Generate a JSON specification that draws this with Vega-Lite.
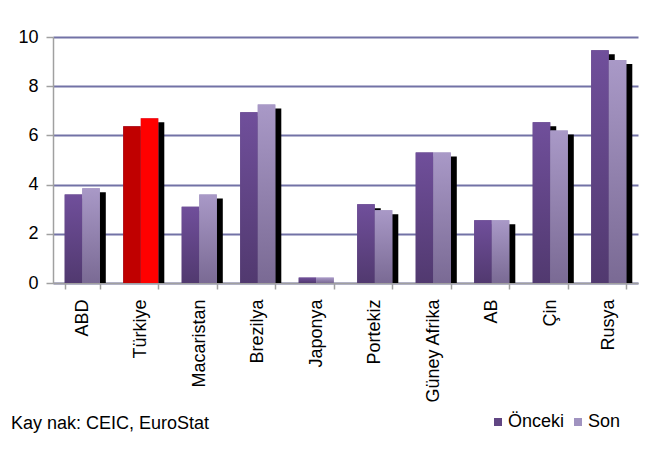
{
  "$schema": "https://vega.github.io/schema/vega-lite/v6.json",
  "autosize": {"type": "none"},
  "width": 585,
  "height": 246,
  "padding": {"left": 53, "top": 37, "right": 10, "bottom": 169},
  "background": "white",
  "title": {
    "text": "Kay nak: CEIC, EuroStat",
    "orient": "bottom",
    "anchor": "start",
    "frame": "group",
    "dx": -42,
    "offset": -16,
    "font": "Liberation Sans",
    "fontSize": 18,
    "fontWeight": "normal",
    "color": "#000000"
  },
  "data": {
    "values": [
      {"country": "ABD", "series": "Önceki", "value": 3.6},
      {"country": "ABD", "series": "Son", "value": 3.85},
      {"country": "Türkiye", "series": "Önceki", "value": 6.37},
      {"country": "Türkiye", "series": "Son", "value": 6.7},
      {"country": "Macaristan", "series": "Önceki", "value": 3.1},
      {"country": "Macaristan", "series": "Son", "value": 3.6},
      {"country": "Brezilya", "series": "Önceki", "value": 6.94},
      {"country": "Brezilya", "series": "Son", "value": 7.26},
      {"country": "Japonya", "series": "Önceki", "value": 0.22},
      {"country": "Japonya", "series": "Son", "value": 0.22},
      {"country": "Portekiz", "series": "Önceki", "value": 3.2},
      {"country": "Portekiz", "series": "Son", "value": 2.96},
      {"country": "Güney Afrika", "series": "Önceki", "value": 5.3},
      {"country": "Güney Afrika", "series": "Son", "value": 5.3},
      {"country": "AB", "series": "Önceki", "value": 2.55},
      {"country": "AB", "series": "Son", "value": 2.55},
      {"country": "Çin", "series": "Önceki", "value": 6.53},
      {"country": "Çin", "series": "Son", "value": 6.2},
      {"country": "Rusya", "series": "Önceki", "value": 9.46},
      {"country": "Rusya", "series": "Son", "value": 9.06}
    ]
  },
  "encoding": {
    "x": {
      "field": "country",
      "type": "nominal",
      "sort": ["ABD", "Türkiye", "Macaristan", "Brezilya", "Japonya", "Portekiz", "Güney Afrika", "AB", "Çin", "Rusya"],
      "scale": {"paddingInner": 0.4, "paddingOuter": 0.2},
      "axis": {
        "title": null,
        "labelAngle": -90,
        "labelFont": "Liberation Sans",
        "labelFontSize": 18,
        "labelColor": "#000000",
        "labelPadding": 10,
        "tickBand": "extent",
        "tickSize": 6,
        "tickColor": "#a0a0a0",
        "tickWidth": 1.5,
        "domainColor": "#a0a0a0",
        "domainWidth": 1.5,
        "grid": false
      }
    },
    "y": {
      "field": "value",
      "type": "quantitative",
      "scale": {"domain": [0, 10], "nice": false},
      "axis": {
        "title": null,
        "values": [0, 2, 4, 6, 8, 10],
        "labelFont": "Liberation Sans",
        "labelFontSize": 18,
        "labelColor": "#000000",
        "labelPadding": 8,
        "tickSize": 7,
        "tickColor": "#a0a0a0",
        "tickWidth": 1.5,
        "domainColor": "#a0a0a0",
        "domainWidth": 1.5,
        "grid": true,
        "gridColor": "#7272a6",
        "gridWidth": 2
      }
    }
  },
  "resolve": {"scale": {"xOffset": "independent"}},
  "layer": [
    {
      "transform": [{"filter": "datum.value > 0.5"}],
      "mark": {"type": "bar", "fill": "#000000", "yOffset": 4, "clip": true},
      "encoding": {
        "xOffset": {
          "field": "series",
          "type": "nominal",
          "sort": ["Önceki", "Son"],
          "scale": {"range": [6, 41.1]}
        }
      }
    },
    {
      "layer": [
        {
          "mark": {"type": "bar"},
          "encoding": {
            "color": {
              "field": "series",
              "type": "nominal",
              "scale": {"domain": ["Önceki", "Son"], "range": ["#614683", "#a093c0"]},
              "legend": {
                "title": null,
                "orient": "none",
                "legendX": 436,
                "legendY": 376,
                "direction": "horizontal",
                "symbolType": "square",
                "symbolSize": 64,
                "symbolStrokeWidth": 0,
                "labelFont": "Liberation Sans",
                "labelFontSize": 18,
                "labelColor": "#000000",
                "labelOffset": 1,
                "columnPadding": 4
              }
            }
          }
        },
        {
          "transform": [{"filter": "datum.series == 'Önceki' && datum.country != 'Türkiye'"}],
          "mark": {
            "type": "bar",
            "fill": {
              "gradient": "linear", "x1": 0, "y1": 0, "x2": 0, "y2": 1,
              "stops": [{"offset": 0, "color": "#704f9b"}, {"offset": 1, "color": "#51396f"}]
            }
          }
        },
        {
          "transform": [{"filter": "datum.series == 'Son' && datum.country != 'Türkiye'"}],
          "mark": {
            "type": "bar",
            "fill": {
              "gradient": "linear", "x1": 0, "y1": 0, "x2": 0, "y2": 1,
              "stops": [{"offset": 0, "color": "#a999c7"}, {"offset": 1, "color": "#7a6a94"}]
            }
          }
        },
        {
          "transform": [{"filter": "datum.country == 'Türkiye'"}],
          "mark": {"type": "bar"},
          "encoding": {
            "fill": {
              "condition": {"test": "datum.series == 'Önceki'", "value": "#c00000"},
              "value": "#ff0000"
            }
          }
        }
      ],
      "encoding": {
        "xOffset": {
          "field": "series",
          "type": "nominal",
          "sort": ["Önceki", "Son"],
          "scale": {"paddingInner": 0, "paddingOuter": 0}
        }
      }
    }
  ],
  "config": {
    "view": {"stroke": null},
    "bar": {"strokeWidth": 0}
  }
}
